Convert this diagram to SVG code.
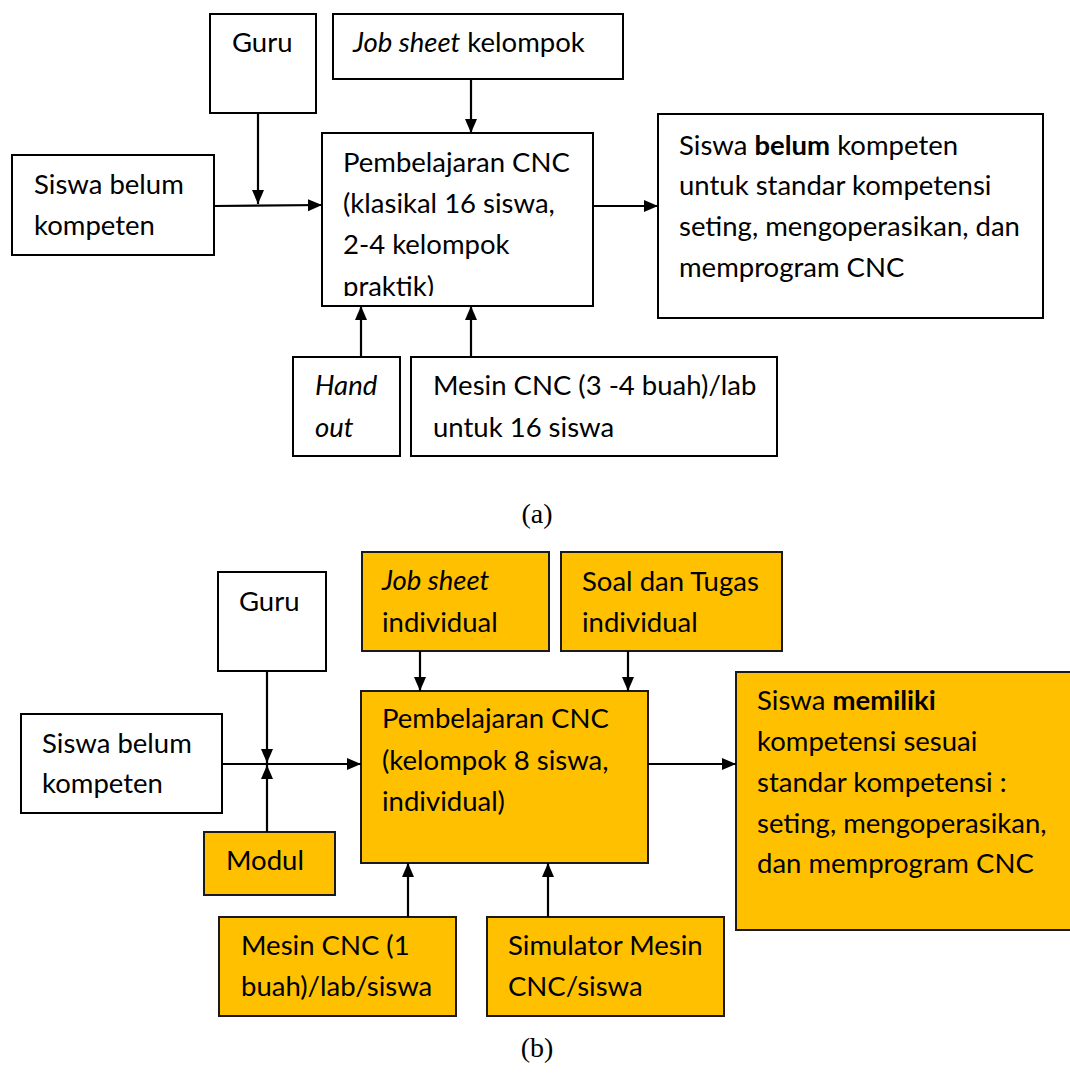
<svg xmlns="http://www.w3.org/2000/svg" width="1070" height="1073" viewBox="0 0 1070 1073">
<style>
.box{fill:#fff;stroke:#000;stroke-width:2}
.ob{fill:#FFC000;stroke:#1a1a1a;stroke-width:2}
.t{font-family:Lato,"Open Sans","Liberation Sans",sans-serif;font-size:27.5px;fill:#000}
.cap{font-family:"Liberation Serif","Times New Roman",serif;font-size:28px;fill:#000;text-anchor:middle}
.c{stroke:#000;stroke-width:2.2;fill:none;marker-end:url(#ah)}
</style>
<defs>
<marker id="ah" markerUnits="userSpaceOnUse" markerWidth="14" markerHeight="14" viewBox="0 0 14 14" refX="14" refY="7" orient="auto">
<path d="M0,1 L14,7 L0,13 z" fill="#000"/>
</marker>
<clipPath id="clipMain"><rect x="322" y="133" width="271" height="163"/></clipPath>
</defs>
<rect width="1070" height="1073" fill="#fff"/>

<!-- (a) diagram -->
<g id="a-guru"><rect class="box" x="210" y="14" width="106" height="99"/><text class="t" x="232" y="52">Guru</text></g>
<g id="a-jobsheet"><rect class="box" x="333" y="14" width="290" height="65"/><text class="t" x="353" y="52"><tspan font-style="italic">Job sheet</tspan> kelompok</text></g>
<g id="a-siswa"><rect class="box" x="12" y="155" width="202" height="100"/><text class="t" x="34" y="194">Siswa belum</text><text class="t" x="34" y="235">kompeten</text></g>
<g id="a-main"><rect class="box" x="322" y="133" width="271" height="173"/>
<g clip-path="url(#clipMain)"><text class="t" x="343" y="172">Pembelajaran CNC</text><text class="t" x="343" y="213">(klasikal 16 siswa,</text><text class="t" x="343" y="254">2-4 kelompok</text><text class="t" x="343" y="296">praktik)</text></g></g>
<g id="a-output"><rect class="box" x="658" y="114" width="385" height="204"/><text class="t" x="679" y="155">Siswa <tspan font-weight="bold">belum</tspan> kompeten</text><text class="t" x="679" y="195">untuk standar kompetensi</text><text class="t" x="679" y="236">seting, mengoperasikan, dan</text><text class="t" x="679" y="277">memprogram CNC</text></g>
<g id="a-handout"><rect class="box" x="293" y="357" width="107" height="99"/><text class="t" x="315" y="395" font-style="italic">Hand</text><text class="t" x="315" y="437" font-style="italic">out</text></g>
<g id="a-mesin"><rect class="box" x="411" y="357" width="366" height="99"/><text class="t" x="433" y="395">Mesin CNC (3 -4 buah)/lab</text><text class="t" x="433" y="437">untuk 16 siswa</text></g>
<text class="cap" x="537" y="523">(a)</text>

<!-- (b) diagram -->
<g id="b-guru"><rect class="box" x="218" y="572" width="108" height="99"/><text class="t" x="239" y="611">Guru</text></g>
<g id="b-jobsheet"><rect class="ob" x="362" y="552" width="187" height="99"/><text class="t" x="382" y="590" font-style="italic">Job sheet</text><text class="t" x="382" y="632">individual</text></g>
<g id="b-soal"><rect class="ob" x="561" y="552" width="221" height="99"/><text class="t" x="582" y="591">Soal dan Tugas</text><text class="t" x="582" y="632">individual</text></g>
<g id="b-siswa"><rect class="box" x="21" y="714" width="201" height="99"/><text class="t" x="42" y="753">Siswa belum</text><text class="t" x="42" y="793">kompeten</text></g>
<g id="b-main"><rect class="ob" x="361" y="691" width="287" height="172"/><text class="t" x="382" y="728">Pembelajaran CNC</text><text class="t" x="382" y="770">(kelompok 8 siswa,</text><text class="t" x="382" y="811">individual)</text></g>
<g id="b-modul"><rect class="ob" x="204" y="832" width="131" height="63"/><text class="t" x="226" y="870">Modul</text></g>
<g id="b-output"><rect class="ob" x="736" y="672" width="340" height="258"/><text class="t" x="757" y="710">Siswa <tspan font-weight="bold">memiliki</tspan></text><text class="t" x="757" y="751">kompetensi sesuai</text><text class="t" x="757" y="792">standar kompetensi :</text><text class="t" x="757" y="833">seting, mengoperasikan,</text><text class="t" x="757" y="873">dan memprogram CNC</text></g>
<g id="b-mesin"><rect class="ob" x="219" y="917" width="237" height="99"/><text class="t" x="241" y="955">Mesin CNC (1</text><text class="t" x="241" y="996">buah)/lab/siswa</text></g>
<g id="b-simulator"><rect class="ob" x="487" y="917" width="237" height="99"/><text class="t" x="508" y="955">Simulator Mesin</text><text class="t" x="508" y="996">CNC/siswa</text></g>
<text class="cap" x="537" y="1057">(b)</text>

<g id="connectors">
<path class="c" d="M258,113 V204"/>
<path class="c" d="M214,206 L322,205"/>
<path class="c" d="M471,79 V133"/>
<path class="c" d="M593,206 H658"/>
<path class="c" d="M361,357 V306"/>
<path class="c" d="M471,357 V306"/>
<path class="c" d="M267,671 V763"/>
<path class="c" d="M267,832 V765"/>
<path class="c" d="M222,764 H361"/>
<path class="c" d="M420,651 V691"/>
<path class="c" d="M628,651 V691"/>
<path class="c" d="M648,764 H736"/>
<path class="c" d="M408,917 V863"/>
<path class="c" d="M548,917 V863"/>
</g>
</svg>
